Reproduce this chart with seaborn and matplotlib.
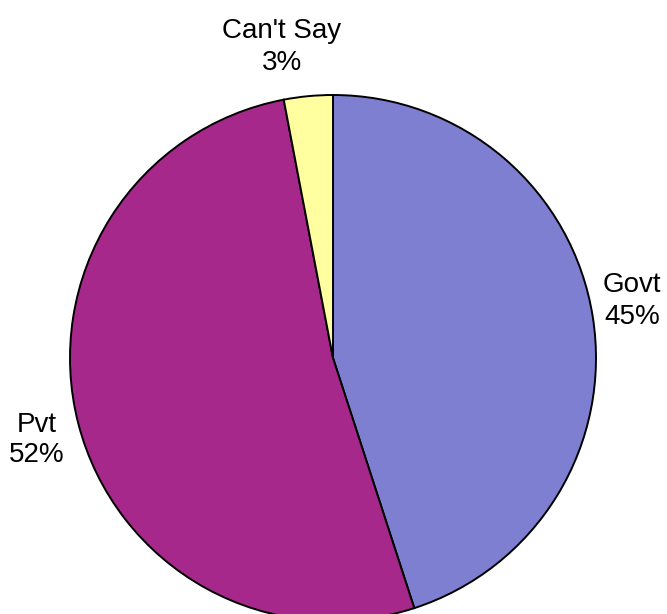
import matplotlib
matplotlib.use("Agg")
import matplotlib.pyplot as plt
import seaborn as sns

# Share of respondents by preferred sector
categories = ["Govt", "Pvt", "Can't Say"]
shares = [45, 52, 3]
colors = ["#7F7FD2", "#A6288A", "#FFFFA0"]

sns.set_theme(style="white")
plt.rcParams["font.family"] = ["Liberation Sans", "DejaVu Sans"]

W, H = 667, 614
fig = plt.figure(figsize=(W / 100, H / 100), dpi=100)
fig.patch.set_facecolor("white")

# Pie centre (333, 358) px, radius 263 px
cx, cy, r = 333, 358, 263
ax = fig.add_axes([(cx - r) / W, (H - cy - r) / H, 2 * r / W, 2 * r / H])
ax.pie(shares, colors=colors, startangle=90, counterclock=False,
       radius=1.0, wedgeprops=dict(edgecolor="black", linewidth=1.4))
for p in ax.patches:
    p.set_clip_on(False)
ax.set_xlim(-1, 1)
ax.set_ylim(-1, 1)
ax.set_axis_off()

# Category labels with percentages
label_pos = {"Govt": (632, 301), "Pvt": (37, 440), "Can't Say": (282, 47)}
for name, val in zip(categories, shares):
    x, y = label_pos[name]
    fig.text(x / W, 1 - y / H, f"{name}\n{val}%", ha="center", va="center",
             fontsize=20, color="black", linespacing=1.25)

fig.savefig("out.png", dpi=100)
